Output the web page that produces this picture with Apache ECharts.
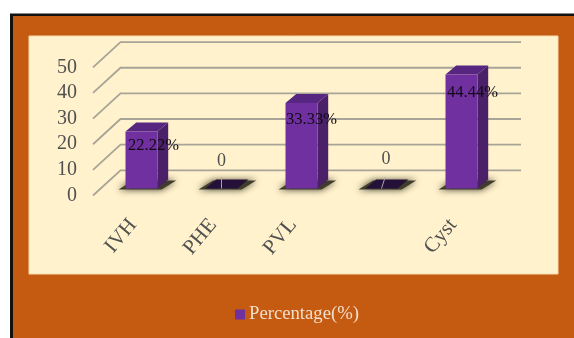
<!DOCTYPE html>
<html>
<head>
<meta charset="utf-8">
<style>html,body{margin:0;padding:0;background:#fff}#chart{width:574px;height:338px}</style>
<script src="https://cdn.jsdelivr.net/npm/echarts@6/dist/echarts.min.js"></script>
</head>
<body>
<div id="chart"></div>
<script>
const categories = ['IVH', 'PHE', 'PVL', '', 'Cyst'];
const values = [22.22, 0, 33.33, 0, 44.44];
const valueTicks = [0, 10, 20, 30, 40, 50];
const seriesName = 'Percentage(%)';

// Pseudo-3D geometry, in pixels
const wallShift = [27.5, -25.2];   // front edge of the floor to the back wall
const wallRight = 521;
const barShift = [8.5, -7];        // front edge of the floor to the front of a bar
const barWidth = 32;
const barDepth = [10.7, -9];
const labelNudges = [[12, 14.5], [0, -27], [10, 17], [4.5, -29], [11, 18]];
const leaderTilt = [0, 0, 0, 3.5, 0];

const serif = '"Liberation Serif", "Times New Roman", serif';

function renderWall(params, api) {
  const y = api.coord([0, api.value(0)])[1];
  const x0 = params.coordSys.x;
  const points = [[x0, y], [x0 + wallShift[0], y + wallShift[1]], [wallRight, y + wallShift[1]]];
  return {
    type: 'polyline',
    shape: { points },
    style: { fill: null, stroke: '#a8a598', lineWidth: 1.8 }
  };
}

function renderBar(params, api) {
  const value = api.value(1);
  const base = api.coord([api.value(0), 0]);
  const top = api.coord([api.value(0), value]);
  const l = base[0] + barShift[0] - barWidth / 2;
  const r = l + barWidth;
  const b = base[1] + barShift[1];
  const t = top[1] + barShift[1];
  const dx = barDepth[0], dy = barDepth[1];
  const i = params.dataIndex;
  const nudge = labelNudges[i];
  const children = [];
  const flat = value === 0;

  // soft cast shadow on the floor
  children.push({
    type: 'polygon',
    shape: { points: [[l - 7, b + 1], [r + 4, b + 1], [r + dx + 8, b + dy + 1], [l + dx - 3, b + dy + 1]] },
    style: { fill: '#3f3d2a', shadowBlur: 7, shadowColor: 'rgba(30,28,14,0.9)' }
  });

  if (flat) {
    children.push({
      type: 'polygon',
      shape: { points: [[l, b], [r, b], [r + dx, b + dy], [l + dx, b + dy]] },
      style: { fill: '#241039' }
    });
    children.push({
      type: 'line',
      shape: { x1: l + barWidth / 2, y1: b, x2: l + barWidth / 2 + leaderTilt[i], y2: b + dy - 2 },
      style: { stroke: '#a9a5b0', lineWidth: 1 }
    });
  } else {
    children.push({
      type: 'polygon',
      shape: { points: [[r, b], [r + dx, b + dy], [r + dx, t + dy], [r, t]] },
      style: { fill: '#4a2069' }
    });
    children.push({
      type: 'polygon',
      shape: { points: [[l, t], [r, t], [r + dx, t + dy], [l + dx, t + dy]] },
      style: { fill: '#572680' }
    });
    children.push({
      type: 'rect',
      shape: { x: l, y: t, width: barWidth, height: b - t },
      style: { fill: '#7030a0' }
    });
  }

  children.push({
    type: 'text',
    x: l + barWidth / 2 + nudge[0],
    y: t + nudge[1],
    style: {
      text: flat ? '0' : value.toFixed(2) + '%',
      fill: flat ? '#4f4f4f' : '#120a18',
      font: (flat ? '18px ' : '16.5px ') + serif,
      align: 'center',
      verticalAlign: 'middle'
    }
  });
  return { type: 'group', children };
}

const chart = echarts.init(document.getElementById('chart'), null, { renderer: 'canvas' });
chart.setOption({
  animation: false,
  backgroundColor: '#ffffff',
  graphic: [
    { type: 'rect', z: -10, silent: true, shape: { x: 10, y: 13.5, width: 564, height: 325 }, style: { fill: '#111111' } },
    { type: 'rect', z: -9, silent: true, shape: { x: 13, y: 16, width: 561, height: 322 }, style: { fill: '#c55a11' } },
    { type: 'rect', z: -8, silent: true, shape: { x: 29, y: 36, width: 529, height: 238 }, style: { fill: '#fff2cc', stroke: '#f7dcae', lineWidth: 1 } }
  ],
  grid: { left: 93, top: 67.3, width: 400, height: 128.2, containLabel: false },
  xAxis: {
    type: 'category',
    data: categories,
    axisLine: { show: false },
    axisTick: { show: false },
    axisLabel: {
      interval: 0, rotate: 50, margin: 26,
      color: '#505050', fontFamily: serif, fontSize: 21
    }
  },
  yAxis: {
    type: 'value',
    min: 0, max: 50, interval: 10,
    axisLine: { show: false },
    axisTick: { show: false },
    splitLine: { show: false },
    axisLabel: { margin: 16, color: '#505050', fontFamily: serif, fontSize: 20, formatter: v => valueTicks.includes(v) ? String(v) : '' }
  },
  legend: {
    show: true,
    data: [seriesName],
    left: 230,
    top: 300,
    icon: 'rect',
    itemWidth: 10,
    itemHeight: 10,
    itemGap: 4,
    textStyle: { color: '#f2dfce', fontFamily: serif, fontSize: 18.7, padding: [0, 0, 0, -1] }
  },
  series: [
    {
      type: 'custom',
      name: 'wall',
      coordinateSystem: 'cartesian2d',
      silent: true,
      z: 1,
      encode: { y: 0 },
      data: valueTicks.map(v => [v]),
      renderItem: renderWall
    },
    {
      type: 'custom',
      name: seriesName,
      coordinateSystem: 'cartesian2d',
      z: 2,
      itemStyle: { color: '#7030a0' },
      encode: { x: 0, y: 1 },
      data: values.map((v, i) => [i, v]),
      renderItem: renderBar
    }
  ]
});
</script>
</body>
</html>
